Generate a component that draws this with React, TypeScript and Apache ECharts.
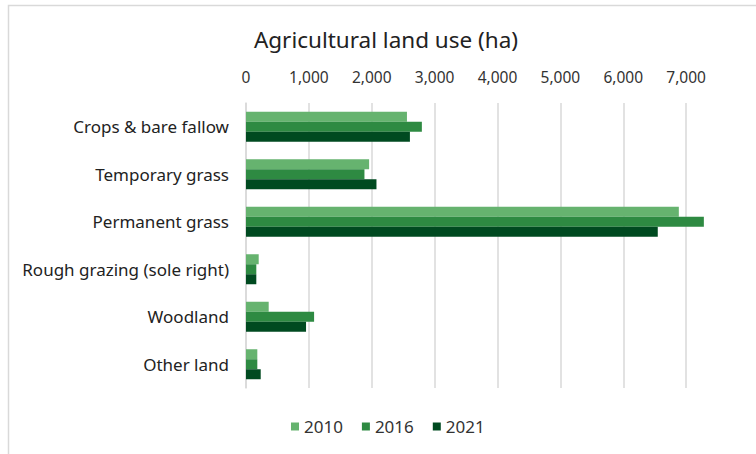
import React, { useEffect, useRef } from "react";
import * as echarts from "echarts";

const categories = [
  "Crops & bare fallow",
  "Temporary grass",
  "Permanent grass",
  "Rough grazing (sole right)",
  "Woodland",
  "Other land",
];
const seriesNames = ["2010", "2016", "2021"];
const values2010 = [2560, 1958, 6884, 202, 361, 180];
const values2016 = [2797, 1884, 7282, 164, 1083, 180];
const values2021 = [2607, 2075, 6549, 164, 955, 234];
const colors = ["#66b36f", "#2e8a42", "#004a20"];
const font = "'Noto Sans', sans-serif";

export default function App() {
  const ref = useRef<HTMLDivElement>(null);
  useEffect(() => {
    if (!ref.current) return;
    const chart = echarts.init(ref.current, undefined, { renderer: "svg" });
    const data = [values2010, values2016, values2021];
    chart.setOption({
      animation: false,
      backgroundColor: "#ffffff",
      title: {
        text: "Agricultural land use (ha)",
        left: 381,
        top: 23,
        textAlign: "center",
        textStyle: { fontFamily: font, fontSize: 22.5, fontWeight: "normal", color: "#222222" },
      },
      graphic: [
        {
          type: "rect",
          shape: { x: 8.5, y: 5.5, width: 800, height: 500 },
          style: { fill: "none", stroke: "#d9d9d9", lineWidth: 1.5 },
          silent: true,
        },
      ],
      legend: {
        data: seriesNames,
        bottom: 14,
        left: 286,
        itemWidth: 8,
        itemHeight: 8,
        itemGap: 19,
        icon: "rect",
        textStyle: { fontFamily: font, fontSize: 17, color: "#333333" },
      },
      grid: { left: 246, right: 7, top: 103, bottom: 66, containLabel: false },
      xAxis: {
        type: "value",
        position: "top",
        min: 0,
        max: 8000,
        interval: 1000,
        axisLine: { show: false },
        axisTick: { show: false },
        axisLabel: {
          margin: 18,
          showMaxLabel: false,
          fontFamily: font,
          fontSize: 15.5,
          color: "#333333",
          formatter: (v: number) => (v >= 8000 ? "" : v.toLocaleString("en-US")),
        },
        splitLine: { show: true, showMaxLine: false, lineStyle: { color: "#d9d9d9", width: 1.5 } },
      },
      yAxis: {
        type: "category",
        data: categories,
        inverse: true,
        axisLine: { show: true, lineStyle: { color: "#d9d9d9", width: 1.5 } },
        axisTick: { show: false },
        axisLabel: { margin: 17, fontFamily: font, fontSize: 17, color: "#222222" },
      },
      series: seriesNames.map((name, i) => ({
        name,
        type: "bar",
        data: data[i],
        barWidth: 10,
        barGap: "0%",
        itemStyle: { color: colors[i] },
      })),
    });
    return () => chart.dispose();
  }, []);
  return (
    <div style={{ position: "fixed", left: 0, top: 0, width: 756, height: 454, overflow: "hidden" }}>
      <div ref={ref} style={{ width: 756, height: 454 }} />
    </div>
  );
}
